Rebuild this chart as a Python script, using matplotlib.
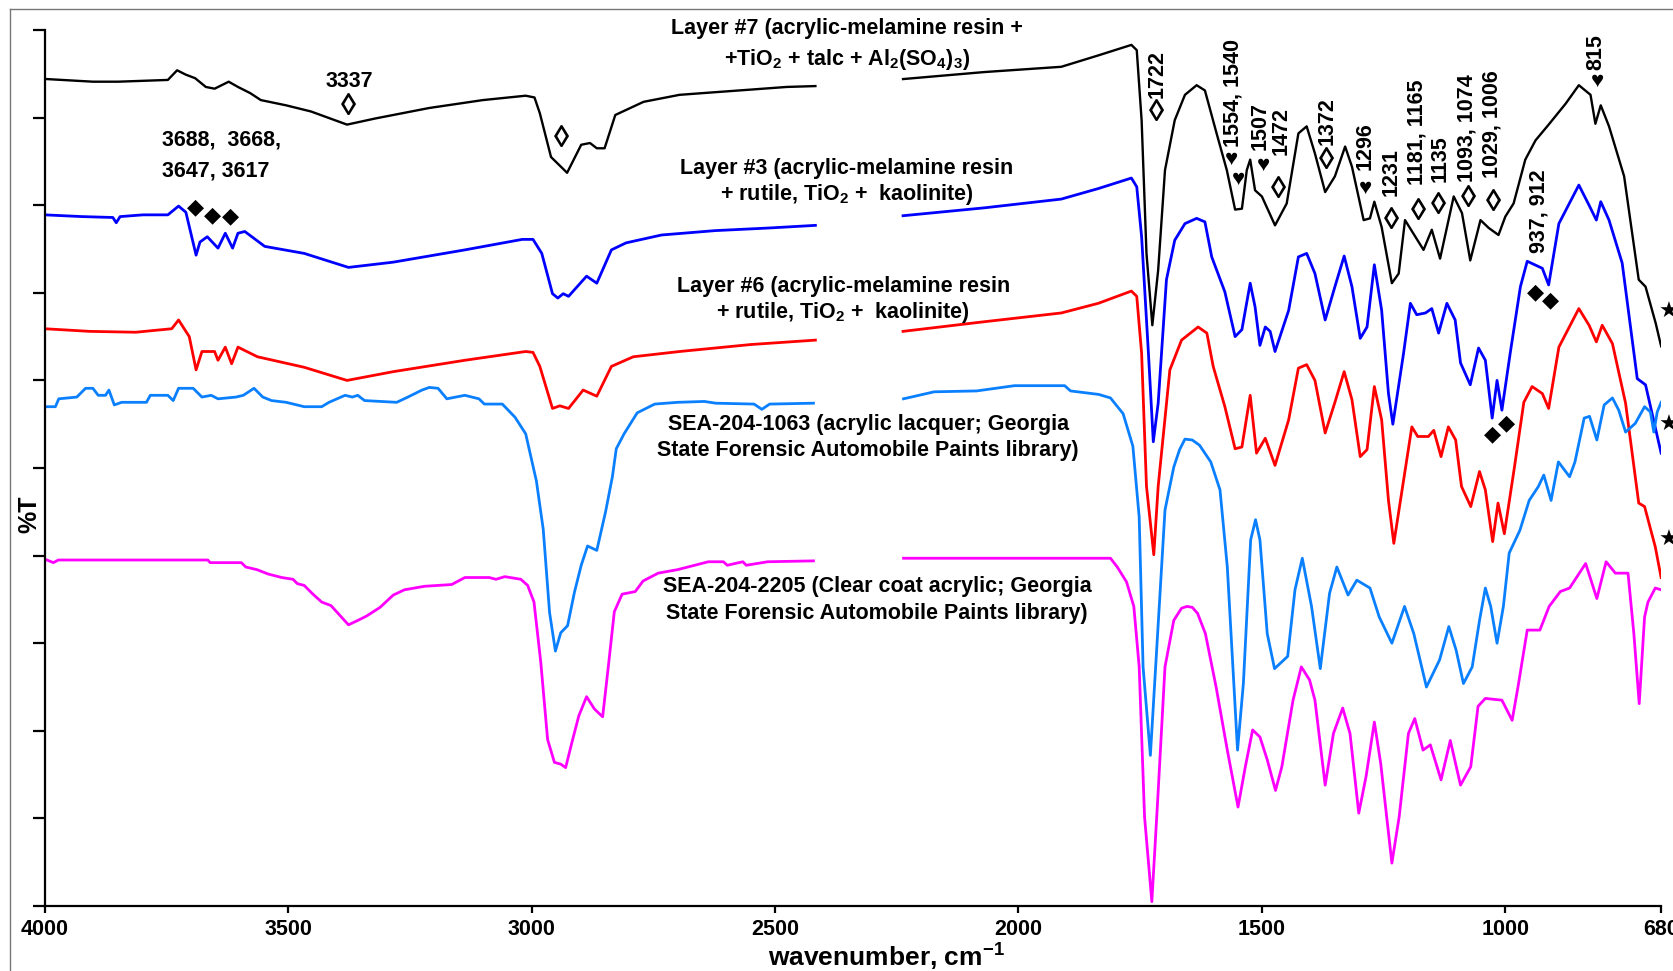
import numpy as np
import matplotlib
matplotlib.use("Agg")
import matplotlib.pyplot as plt
from matplotlib.lines import Line2D

plt.rcParams['font.family'] = ['Liberation Sans', 'DejaVu Sans']
plt.rcParams['font.weight'] = 'bold'
plt.rcParams['mathtext.fontset'] = 'custom'
plt.rcParams['mathtext.rm'] = 'Liberation Sans:bold'
plt.rcParams['mathtext.bf'] = 'Liberation Sans:bold'

nan = np.nan

# --- spectra: wavenumber (cm-1) and offset %T (tick units), nan = gap in the record ---
black_wn = [4000, 3996, 3901, 3849, 3747, 3728, 3710, 3691, 3669, 3651, 3622, 3603, 3578, 3556,
            3504, 3453, 3379, 3321, 3210, 3100, 3012, 2994, 2983, 2960, 2927, 2898, 2880, 2866,
            2850, 2828, 2770, 2696, 2623, 2549, 2476, 2417, nan,
            2237, 2070, 1912, 1836, 1768, 1757, 1747, 1737, 1725, 1713, 1699, 1679, 1658, 1634,
            1617, 1593, 1572, 1555, 1541, 1531, 1524, 1514, 1500, 1473, 1449, 1425, 1408, 1391,
            1370, 1350, 1329, 1315, 1291, 1278, 1269, 1254, 1233, 1219, 1206, 1168, 1151, 1134,
            1106, 1089, 1072, 1051, 1034, 1014, 1000, 983, 959, 938, 911, 876, 849, 825, 815,
            804, 787, 756, 726, 712, 691, 680]
black_t = [9.44, 9.44, 9.41, 9.41, 9.43, 9.54, 9.49, 9.45, 9.35, 9.33, 9.41, 9.35, 9.28, 9.20,
           9.14, 9.07, 8.92, 8.99, 9.11, 9.20, 9.25, 9.23, 9.05, 8.55, 8.37, 8.69, 8.71, 8.65,
           8.65, 9.03, 9.18, 9.26, 9.29, 9.32, 9.35, 9.36, nan,
           9.44, 9.52, 9.58, 9.71, 9.83, 9.77, 8.97, 7.45, 6.63, 7.26, 8.40, 8.97, 9.26, 9.37,
           9.31, 8.82, 8.40, 7.95, 7.96, 8.40, 8.52, 8.17, 8.10, 7.77, 8.02, 8.82, 8.90, 8.59,
           8.15, 8.33, 8.67, 8.44, 7.83, 7.85, 8.04, 7.75, 7.11, 7.22, 7.83, 7.49, 7.72, 7.39,
           8.10, 7.91, 7.37, 7.83, 7.74, 7.66, 7.87, 8.02, 8.52, 8.74, 8.92, 9.16, 9.37, 9.26, 8.93,
           9.14, 8.90, 8.33, 7.15, 7.07, 6.65, 6.39]

blue_wn = [4000, 3923, 3860, 3853, 3845, 3798, 3747, 3725, 3710, 3689, 3681, 3666, 3644, 3629,
           3614, 3603, 3589, 3548, 3467, 3376, 3284, 3137, 3019, 2997, 2979, 2957, 2946, 2935,
           2924, 2887, 2866, 2836, 2806, 2733, 2623, 2512, 2417, nan,
           2237, 2070, 1912, 1836, 1768, 1757, 1747, 1733, 1723, 1713, 1696, 1679, 1658, 1634,
           1617, 1603, 1576, 1555, 1541, 1524, 1514, 1504, 1493, 1483, 1473, 1445, 1425, 1408,
           1391, 1370, 1350, 1331, 1315, 1298, 1284, 1269, 1254, 1240, 1231, 1209, 1195, 1182,
           1164, 1151, 1137, 1120, 1103, 1092, 1072, 1055, 1041, 1027, 1017, 1007, 990, 969,
           955, 924, 911, 890, 849, 828, 813, 804, 787, 760, 729, 712, 680]
blue_t = [7.89, 7.87, 7.86, 7.80, 7.87, 7.89, 7.89, 7.99, 7.92, 7.43, 7.58, 7.64, 7.51, 7.68,
          7.51, 7.68, 7.70, 7.53, 7.45, 7.29, 7.35, 7.49, 7.61, 7.61, 7.45, 6.99, 6.94, 6.99,
          6.96, 7.19, 7.11, 7.49, 7.57, 7.66, 7.71, 7.74, 7.77, nan,
          7.88, 7.97, 8.07, 8.19, 8.31, 8.21, 7.64, 6.31, 5.30, 5.74, 7.15, 7.60, 7.79, 7.85,
          7.81, 7.41, 7.01, 6.50, 6.58, 7.11, 6.84, 6.40, 6.61, 6.56, 6.33, 6.80, 7.41, 7.45,
          7.22, 6.69, 7.07, 7.42, 7.07, 6.48, 6.61, 7.32, 6.80, 5.85, 5.50, 6.31, 6.88, 6.75,
          6.77, 6.82, 6.54, 6.88, 6.69, 6.20, 5.95, 6.37, 6.23, 5.57, 6.00, 5.66, 6.31, 7.07,
          7.36, 7.28, 7.09, 7.79, 8.23, 8.00, 7.83, 8.04, 7.83, 7.34, 6.02, 5.95, 5.17]

red_wn = [4000, 3908, 3813, 3739, 3725, 3703, 3689, 3677, 3651, 3644, 3629, 3616, 3603, 3563,
          3467, 3379, 3284, 3137, 3012, 2997, 2983, 2957, 2942, 2924, 2894, 2866, 2836, 2791,
          2696, 2549, 2417, nan,
          2237, 2070, 1912, 1836, 1768, 1757, 1747, 1737, 1722, 1713, 1689, 1665, 1631, 1613,
          1600, 1576, 1555, 1541, 1524, 1511, 1493, 1473, 1445, 1425, 1408, 1391, 1370, 1350,
          1331, 1315, 1298, 1284, 1269, 1254, 1240, 1229, 1192, 1180, 1158, 1147, 1132, 1117,
          1102, 1090, 1071, 1053, 1041, 1026, 1015, 1002, 981, 962, 945, 924, 911, 890, 849,
          828, 813, 801, 780, 753, 726, 714, 692, 680]
red_t = [6.59, 6.56, 6.55, 6.59, 6.69, 6.50, 6.12, 6.33, 6.33, 6.23, 6.38, 6.19, 6.38, 6.27,
         6.15, 6.00, 6.10, 6.23, 6.33, 6.32, 6.16, 5.68, 5.71, 5.68, 5.89, 5.82, 6.16, 6.27,
         6.33, 6.41, 6.46, nan,
         6.56, 6.67, 6.77, 6.88, 7.02, 6.96, 6.31, 4.79, 4.01, 4.79, 6.12, 6.46, 6.61, 6.54,
         6.16, 5.70, 5.22, 5.24, 5.83, 5.17, 5.34, 5.03, 5.55, 6.14, 6.18, 6.00, 5.40, 5.75,
         6.10, 5.78, 5.13, 5.21, 5.93, 5.55, 4.63, 4.14, 5.47, 5.36, 5.36, 5.43, 5.13, 5.47,
         5.32, 4.79, 4.56, 4.96, 4.75, 4.16, 4.60, 4.25, 5.02, 5.75, 5.93, 5.85, 5.68, 6.38, 6.82,
         6.63, 6.44, 6.63, 6.42, 5.74, 4.60, 4.56, 4.10, 3.75]

lacquer_wn = [4000, 3978, 3971, 3934, 3916, 3901, 3890, 3875, 3868, 3857, 3842, 3791, 3783, 3747,
              3736, 3725, 3695, 3677, 3658, 3644, 3607, 3592, 3570, 3552, 3534, 3504, 3467, 3431,
              3416, 3383, 3368, 3357, 3343, 3277, 3254, 3225, 3210, 3192, 3174, 3137, 3108, 3097,
              3060, 3034, 3012, 2990, 2976, 2963, 2951, 2940, 2926, 2912, 2898, 2885, 2866, 2848,
              2834, 2826, 2810, 2783, 2747, 2700, 2645, 2622, 2543, 2527, 2511, 2421, nan,
              2236, 2173, 2086, 2008, 1905, 1893, 1835, 1811, 1785, 1765, 1752, 1744, 1729, 1714,
              1699, 1681, 1669, 1658, 1643, 1628, 1605, 1586, 1571, 1550, 1538, 1523, 1513, 1504,
              1489, 1474, 1447, 1432, 1417, 1398, 1380, 1361, 1346, 1323, 1305, 1278, 1259, 1233,
              1207, 1188, 1162, 1135, 1116, 1101, 1086, 1068, 1053, 1041, 1030, 1017, 1004, 992,
              970, 951, 932, 921, 906, 891, 868, 857, 838, 827, 812, 797, 780, 767, 753, 733, 714,
              702, 695, 688, 680]
lacquer_t = [5.70, 5.70, 5.79, 5.81, 5.91, 5.91, 5.83, 5.83, 5.89, 5.72, 5.75, 5.75, 5.83, 5.83,
             5.77, 5.91, 5.91, 5.81, 5.83, 5.79, 5.81, 5.83, 5.91, 5.81, 5.77, 5.75, 5.70, 5.70,
             5.75, 5.83, 5.81, 5.83, 5.77, 5.75, 5.81, 5.89, 5.92, 5.91, 5.79, 5.83, 5.79, 5.73,
             5.73, 5.58, 5.39, 4.85, 4.30, 3.35, 2.91, 3.12, 3.20, 3.58, 3.89, 4.11, 4.06, 4.50,
             4.90, 5.22, 5.39, 5.63, 5.73, 5.75, 5.76, 5.74, 5.73, 5.67, 5.73, 5.74, nan,
             5.79, 5.87, 5.88, 5.94, 5.94, 5.88, 5.84, 5.80, 5.62, 5.25, 4.44, 2.73, 1.72, 3.11,
             4.52, 5.01, 5.21, 5.33, 5.32, 5.26, 5.07, 4.75, 3.87, 1.78, 2.54, 4.18, 4.41, 4.18,
             3.11, 2.71, 2.85, 3.61, 3.97, 3.42, 2.71, 3.57, 3.87, 3.55, 3.72, 3.63, 3.30, 3.00,
             3.42, 3.11, 2.50, 2.81, 3.19, 2.92, 2.54, 2.73, 3.26, 3.63, 3.42, 3.00, 3.42, 4.03,
             4.29, 4.63, 4.79, 4.92, 4.63, 5.07, 4.90, 5.07, 5.57, 5.59, 5.32, 5.72, 5.80, 5.66, 5.41,
             5.51, 5.70, 5.64, 5.41, 5.64, 5.75]

clear_wn = [4000, 3991, 3982, 3972, 3665, 3660, 3596, 3587, 3564, 3541, 3513, 3490, 3481, 3467,
            3449, 3431, 3412, 3376, 3357, 3339, 3311, 3284, 3261, 3220, 3164, 3137, 3087, 3073,
            3055, 3022, 3008, 2995, 2981, 2967, 2953, 2940, 2930, 2917, 2903, 2887, 2871, 2854,
            2843, 2830, 2814, 2787, 2771, 2740, 2700, 2637, 2606, 2598, 2566, 2559, 2515, 2421, nan,
            2236, 1811, 1797, 1778, 1763, 1752, 1741, 1726, 1714, 1699, 1681, 1665, 1654, 1643,
            1632, 1616, 1594, 1571, 1549, 1534, 1519, 1504, 1489, 1472, 1459, 1436, 1419, 1402,
            1391, 1370, 1353, 1334, 1319, 1301, 1286, 1269, 1256, 1233, 1218, 1199, 1186, 1169,
            1154, 1132, 1113, 1092, 1071, 1056, 1041, 1007, 986, 974, 955, 929, 910, 887, 868, 835,
            812, 793, 774, 748, 736, 725, 714, 707, 692, 680]
clear_t = [3.96, 3.94, 3.92, 3.95, 3.95, 3.92, 3.92, 3.87, 3.84, 3.79, 3.75, 3.73, 3.68, 3.66,
           3.56, 3.47, 3.43, 3.21, 3.26, 3.31, 3.41, 3.55, 3.61, 3.65, 3.67, 3.75, 3.75, 3.73,
           3.76, 3.73, 3.66, 3.47, 2.78, 1.90, 1.64, 1.62, 1.58, 1.87, 2.17, 2.39, 2.25, 2.16,
           2.70, 3.36, 3.56, 3.59, 3.71, 3.80, 3.84, 3.93, 3.93, 3.89, 3.93, 3.89, 3.93, 3.94, nan,
           3.97, 3.97, 3.87, 3.70, 3.42, 2.73, 1.02, 0.05, 1.21, 2.73, 3.26, 3.40, 3.42, 3.41,
           3.34, 3.11, 2.50, 1.78, 1.13, 1.59, 2.01, 1.93, 1.67, 1.32, 1.59, 2.35, 2.73, 2.58,
           2.35, 1.38, 1.97, 2.26, 1.97, 1.06, 1.48, 2.10, 1.63, 0.49, 1.02, 1.97, 2.14, 1.78,
           1.84, 1.44, 1.89, 1.38, 1.59, 2.28, 2.37, 2.35, 2.12, 2.50, 3.15, 3.15, 3.42, 3.59, 3.63,
           3.91, 3.51, 3.93, 3.80, 3.80, 3.11, 2.31, 3.30, 3.47, 3.63, 3.61]

xtick_vals = [4000, 3500, 3000, 2500, 2000, 1500, 1000, 680]

# labels of the spectra (two lines each, centred at wavenumber, T)
curve_labels = [
    ("Layer #7 (acrylic-melamine resin +", 2353, 10.02),
    (r"+TiO$_2$ + talc + Al$_2$(SO$_4$)$_3$)", 2353, 9.66),
    ("Layer #3 (acrylic-melamine resin", 2353, 8.42),
    (r"+ rutile, TiO$_2$ +  kaolinite)", 2353, 8.12),
    ("Layer #6 (acrylic-melamine resin", 2360, 7.07),
    (r"+ rutile, TiO$_2$ +  kaolinite)", 2360, 6.77),
    ("SEA-204-1063 (acrylic lacquer; Georgia", 2308, 5.50),
    ("State Forensic Automobile Paints library)", 2309, 5.20),
    ("SEA-204-2205 (Clear coat acrylic; Georgia", 2290, 3.65),
    ("State Forensic Automobile Paints library)", 2290, 3.34),
]

# peak numbers written vertically (text, wavenumber, bottom of text)
peak_labels = [
    ("1722", 1716, 9.22), ("1554, 1540", 1559, 8.67), ("1507", 1504, 8.63),
    ("1472", 1461, 8.57), ("1372", 1365, 8.69), ("1296", 1288, 8.40),
    ("1231", 1234, 8.10), ("1181, 1165", 1182, 8.23), ("1135", 1134, 8.27),
    ("1093, 1074", 1079, 8.26), ("1029, 1006", 1027, 8.31), ("937, 912", 931, 7.45),
    ("815", 813, 9.54),
]

# band markers (wavenumber, T)
lozenges = [(3376, 9.12), (2938, 8.76), (1716, 9.05), (1466, 8.17), (1367, 8.51),
            (1234, 7.82), (1178, 7.92), (1137, 7.99), (1075, 8.07), (1024, 8.03)]
hearts = [(1563, 8.53), (1548, 8.30), (1497, 8.46), (1288, 8.19), (811, 9.41)]
solid_diamonds = [(3690, 7.98), (3655, 7.88), (3618, 7.87), (938, 7.01), (907, 6.92),
                  (1027, 5.38), (998, 5.51)]
stars = [(664, 6.78), (664, 5.49), (664, 4.18)]

fig = plt.figure(figsize=(16.73, 9.71), dpi=100)
ax = fig.add_axes([0.0267, 0.0669, 0.9662, 0.9022])

ax.plot(black_wn, black_t, color='black', lw=1.7)
ax.plot(blue_wn, blue_t, color='#0000FF', lw=2.0)
ax.plot(red_wn, red_t, color='#FF0000', lw=2.0)
ax.plot(lacquer_wn, lacquer_t, color='#0A80FF', lw=2.0)
ax.plot(clear_wn, clear_t, color='#FF00FF', lw=2.0)

ax.set_xlim(4000, 680)
ax.set_ylim(0, 10)
ax.set_xticks(xtick_vals)
ax.set_xticklabels([str(v) for v in xtick_vals])
ax.set_yticks(np.arange(0, 11, 1))
ax.set_yticklabels([])
for s in ['top', 'right']:
    ax.spines[s].set_visible(False)
for s in ['left', 'bottom']:
    ax.spines[s].set_linewidth(1.6)
ax.tick_params(axis='x', length=5, width=1.6, labelsize=15.5, pad=4)
ax.tick_params(axis='y', length=9, width=1.6)
for lab in ax.get_xticklabels():
    lab.set_fontweight('bold')

ax.set_xlabel(r"wavenumber, cm$^{-1}$", fontsize=19, fontweight='bold')
ax.xaxis.set_label_coords(0.521, -0.039)
fig.text(29 / 1673, 1 - 514 / 971, "%T", rotation=90, ha='center', va='center',
         fontsize=18, fontweight='bold')

for txt, x, y in curve_labels:
    ax.text(x, y, txt, ha='center', va='center', fontsize=15.5, fontweight='bold')

ax.text(3374, 9.41, "3337", ha='center', va='center', fontsize=15.5, fontweight='bold')
ax.text(3758, 8.75, "3688,  3668,", ha='left', va='center', fontsize=15.5, fontweight='bold')
ax.text(3758, 8.39, "3647, 3617", ha='left', va='center', fontsize=15.5, fontweight='bold')

for txt, x, y in peak_labels:
    ax.text(x, y, txt, rotation=90, ha='center', va='bottom', fontsize=15.5,
            fontweight='bold')

for x, y in lozenges:
    ax.text(x, y, "\u25CA", ha='center', va='center', fontsize=22, fontweight='bold')
for x, y in hearts:
    ax.text(x, y, "\u2665", ha='center', va='center', fontsize=16)
for x, y in solid_diamonds:
    ax.text(x, y, "\u25C6", ha='center', va='center', fontsize=16,
            family=['DejaVu Sans'])
for x, y in stars:
    ax.text(x, y, "\u2605", ha='center', va='center', fontsize=16,
            family=['DejaVu Sans'])

# figure frame (left and top edges visible)
fig.add_artist(Line2D([0.0062, 0.0062], [0, 0.9905], transform=fig.transFigure,
                      color='#777777', lw=1.0))
fig.add_artist(Line2D([0.0062, 1.0], [0.9905, 0.9905], transform=fig.transFigure,
                      color='#777777', lw=1.0))

fig.savefig("out.png", dpi=100)
